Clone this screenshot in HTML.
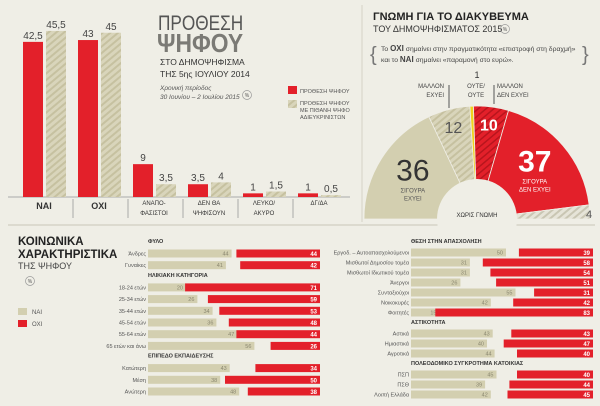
<!DOCTYPE html>
<html><head><meta charset="utf-8">
<style>
html,body{margin:0;padding:0;background:#efeee6;}
svg{display:block;font-family:"Liberation Sans Narrow","Liberation Sans","DejaVu Sans",sans-serif;}
</style></head>
<body>
<svg id="c" width="600" height="406" viewBox="0 0 600 406">
<defs>
<pattern id="hk" width="5" height="5" patternUnits="userSpaceOnUse" patternTransform="rotate(-40)">
<rect width="5" height="5" fill="#d9d5bb"/><rect width="5" height="2" fill="#c6c1a0"/></pattern>
<pattern id="hr" width="5" height="5" patternUnits="userSpaceOnUse" patternTransform="rotate(-40)">
<rect width="5" height="5" fill="#e3202a"/><rect width="5" height="1.5" fill="#b8151d"/></pattern>
<pattern id="hl" width="5" height="5" patternUnits="userSpaceOnUse" patternTransform="rotate(-40)">
<rect width="5" height="5" fill="#e6e4d8"/><rect width="5" height="2" fill="#c9c6b3"/></pattern>
</defs>
<rect width="600" height="406" fill="#efeee6"/>
<g id="top"></g>
<line x1="362" y1="5" x2="362" y2="222" stroke="#d4d2c6" stroke-width="1"/>
<line x1="8" y1="225" x2="595" y2="225" stroke="#c8c6b8" stroke-width="1"/>
<!-- Title -->
<text transform="translate(158,30) scale(0.82,1)" font-size="21" fill="#555">ΠΡΟΘΕΣΗ</text>
<text transform="translate(157,52) scale(0.88,1)" font-size="26" fill="#7b7a75" font-weight="bold">ΨΗΦΟΥ</text>
<text x="160" y="65" font-size="8.5" fill="#333">ΣΤΟ ΔΗΜΟΨΗΦΙΣΜΑ</text>
<text x="160" y="77" font-size="8.5" fill="#333">ΤΗΣ 5ης ΙΟΥΛΙΟΥ 2014</text>
<text x="160" y="90" font-size="6.5" fill="#555" font-style="italic">Χρονική περίοδος</text>
<text x="160" y="99" font-size="6.5" fill="#555" font-style="italic">30 Ιουνίου – 2 Ιουλίου 2015</text>
<circle cx="247" cy="95" r="4.5" fill="none" stroke="#999" stroke-width="0.7"/>
<text x="247" y="97" font-size="5" text-anchor="middle" fill="#555">%</text>
<!-- legend -->
<rect x="288" y="86" width="9" height="8" fill="#e3202a"/>
<text x="300" y="93" font-size="5.5" fill="#555">ΠΡΟΘΕΣΗ ΨΗΦΟΥ</text>
<rect x="288" y="100" width="9" height="8" fill="url(#hk)"/>
<text x="300" y="105" font-size="5.5" fill="#555">ΠΡΟΘΕΣΗ ΨΗΦΟΥ</text>
<text x="300" y="112" font-size="5.5" fill="#555">ΜΕ ΠΙΘΑΝΗ ΨΗΦΟ</text>
<text x="300" y="119" font-size="5.5" fill="#555">ΑΔΙΕΥΚΡΙΝΙΣΤΩΝ</text>
<!-- right title -->
<text x="373" y="20" font-size="11" font-weight="bold" fill="#222">ΓΝΩΜΗ ΓΙΑ ΤΟ ΔΙΑΚΥΒΕΥΜΑ</text>
<text x="373" y="32" font-size="9" fill="#333">ΤΟΥ ΔΗΜΟΨΗΦΙΣΜΑΤΟΣ 2015</text>
<circle cx="505" cy="29" r="4.5" fill="none" stroke="#999" stroke-width="0.7"/>
<text x="505" y="31" font-size="5" text-anchor="middle" fill="#555">%</text>
<text x="370" y="61" font-size="20" fill="#777">{</text>
<text x="582" y="61" font-size="20" fill="#777">}</text>
<text x="381" y="51" font-size="6.8" fill="#444">Το <tspan font-weight="bold" font-size="8">ΟΧΙ</tspan> σημαίνει στην πραγματικότητα «επιστροφή στη δραχμή»</text>
<text x="381" y="62" font-size="6.8" fill="#444">και το <tspan font-weight="bold" font-size="8">ΝΑΙ</tspan> σημαίνει «παραμονή στο ευρώ».</text>
<g id="pie"></g>
<!-- lower title -->
<text x="18" y="245" font-size="11.5" font-weight="bold" fill="#222">ΚΟΙΝΩΝΙΚΑ</text>
<text x="18" y="258" font-size="11.5" font-weight="bold" fill="#222">ΧΑΡΑΚΤΗΡΙΣΤΙΚΑ</text>
<text x="18" y="269" font-size="9" fill="#444">ΤΗΣ ΨΗΦΟΥ</text>
<circle cx="30" cy="281" r="4.5" fill="none" stroke="#999" stroke-width="0.7"/>
<text x="30" y="283" font-size="5" text-anchor="middle" fill="#555">%</text>
<rect x="18" y="308" width="9" height="7" fill="#d3cfb0"/>
<text x="32" y="314" font-size="6" fill="#555">ΝΑΙ</text>
<rect x="18" y="320" width="9" height="7" fill="#e3202a"/>
<text x="32" y="326" font-size="6" fill="#555">ΟΧΙ</text>
<g id="bars"></g>
</svg>
<script>
var NS="http://www.w3.org/2000/svg";
// ---- top chart data ----
var topCats=[["ΝΑΙ"],["ΟΧΙ"],["ΑΝΑΠΟ-","ΦΑΣΙΣΤΟΙ"],["ΔΕΝ ΘΑ","ΨΗΦΙΣΟΥΝ"],["ΛΕΥΚΟ/","ΑΚΥΡΟ"],["ΔΓ/ΔΑ"]];
var topIntention=[42.5,43,9,3.5,1,1];
var topProbable=[45.5,45,3.5,4,1.5,0.5];
var topLabelsA=["42,5","43","9","3,5","1","1"];
var topLabelsB=["45,5","45","3,5","4","1,5","0,5"];
// ---- pie data ----
var pieCats=["ΣΙΓΟΥΡΑ ΝΑΙ","ΜΑΛΛΟΝ ΝΑΙ","ΟΥΤΕ/ΟΥΤΕ","ΜΑΛΛΟΝ ΟΧΙ","ΣΙΓΟΥΡΑ ΟΧΙ","ΧΩΡΙΣ ΓΝΩΜΗ"];
var pieVals=[36,12,1,10,37,4];
// ---- social data ----
var leftGroups=["ΦΥΛΟ","ΗΛΙΚΙΑΚΗ ΚΑΤΗΓΟΡΙΑ","ΕΠΙΠΕΔΟ ΕΚΠΑΙΔΕΥΣΗΣ"];
var leftCats=[["Άνδρες","Γυναίκες"],["18-24 ετών","25-34 ετών","35-44 ετών","45-54 ετών","55-64 ετών","65 ετών και άνω"],["Κατώτερη","Μέση","Ανώτερη"]];
var leftYes=[[44,41],[20,26,34,36,47,56],[43,38,48]];
var leftNo=[[44,42],[71,59,53,48,44,26],[34,50,38]];
var rightGroups=["ΘΕΣΗ ΣΤΗΝ ΑΠΑΣΧΟΛΗΣΗ","ΑΣΤΙΚΟΤΗΤΑ","ΠΟΛΕΟΔΟΜΙΚΟ ΣΥΓΚΡΟΤΗΜΑ ΚΑΤΟΙΚΙΑΣ"];
var rightCats=[["Εργοδ. – Αυτοαπασχολούμενοι","Μισθωτοί Δημοσίου τομέα","Μισθωτοί Ιδιωτικού τομέα","Άνεργοι","Συνταξιούχοι","Νοικοκυρές","Φοιτητές"],["Αστικά","Ημιαστικά","Αγροτικά"],["ΠΣΠ","ΠΣΘ","Λοιπή Ελλάδα"]];
var rightYes=[[50,31,31,26,55,42,15],[43,40,44],[45,39,42]];
var rightNo=[[39,58,54,51,31,42,83],[43,47,40],[40,44,45]];

function mk(tag,attrs,parent,txt){var e=document.createElementNS(NS,tag);for(var k in attrs)e.setAttribute(k,attrs[k]);if(txt!==undefined)e.textContent=txt;parent.appendChild(e);return e;}

// top chart
var top_=document.getElementById("top");
var base=197, yScale=function(v){return v*3.65;}, gx=function(i){return 23+i*55;};
var bl=mk("line",{x1:8,y1:base,x2:350,y2:base,stroke:"#aaa","stroke-width":1},top_);


topCats.forEach(function(c,i){
  var h1=yScale(topIntention[i]),h2=yScale(topProbable[i]);
  var r1=mk("rect",{x:gx(i),y:base-h1,width:20,height:h1,fill:"#e3202a"},top_);
  
  
  var r2=mk("rect",{x:gx(i)+23,y:base-h2,width:20,height:h2,fill:"url(#hk)"},top_);
  
  
  var t1=mk("text",{x:gx(i)+10,y:base-h1-3,"font-size":10,"text-anchor":"middle",fill:"#444"},top_,topLabelsA[i]);
  
  
  var t2=mk("text",{x:gx(i)+33,y:base-h2-3,"font-size":10,"text-anchor":"middle",fill:"#444"},top_,topLabelsB[i]);
  
  
  var big=c.length===1&&i<2;
  c.forEach(function(line,j){
    var tl=mk("text",{x:gx(i)+21,y:big?209:205+j*10,"font-size":big?9:6,"font-weight":big?"bold":"normal","text-anchor":"middle",fill:"#333"},top_,line);
    
    
  });
  if(i>0){
    var s=mk("line",{x1:gx(i)-5,y1:199,x2:gx(i)-5,y2:218,stroke:"#999","stroke-width":0.8},top_);
    
    
  }
});

// pie
var pie=document.getElementById("pie");
var cx=477,cy=219,R=113,r0=40;
var fills=["#d3cfb0","url(#hk)","#f0d21c","url(#hr)","#e3202a","url(#hl)"];
var tot=pieVals.reduce(function(a,b){return a+b;},0),acc=0;
function pt(a,rr){return [cx-rr*Math.cos(a),cy-rr*Math.sin(a)];}
pieVals.forEach(function(v,i){
  var a0=acc/tot*Math.PI,a1=(acc+v)/tot*Math.PI;acc+=v;
  var p0=pt(a0,R),p1=pt(a1,R);
  var d="M"+cx+","+cy+"L"+p0[0]+","+p0[1]+"A"+R+","+R+" 0 0 1 "+p1[0]+","+p1[1]+"Z";
  var s=mk("path",{d:d,fill:fills[i],stroke:"#efeee6","stroke-width":0.8},pie);
  
  
  var am=(a0+a1)/2;
  if(i===0||i===4){var p=pt(am,76);
    var t=mk("text",{x:p[0],y:p[1]+2,"font-size":30,"text-anchor":"middle","font-weight":i===4?"bold":"normal",fill:i===4?"#fff":"#333"},pie,String(v));
    
    
    var l1=mk("text",{x:p[0],y:p[1]+14,"font-size":6,"text-anchor":"middle",fill:i===4?"#fff":"#555"},pie,"ΣΙΓΟΥΡΑ");
    
    
    var l2=mk("text",{x:p[0],y:p[1]+22,"font-size":6,"text-anchor":"middle",fill:i===4?"#fff":"#555"},pie,i===4?"ΔΕΝ ΕΧΥΕΙ":"ΕΧΥΕΙ");
    
    
  } else if(i===1||i===3){var p=pt(am,95);
    var t=mk("text",{x:p[0],y:p[1]+6,"font-size":16,"text-anchor":"middle","font-weight":i===3?"bold":"normal",fill:i===3?"#fff":"#555"},pie,String(v));
    
    
  } else if(i===5){
    var t=mk("text",{x:cx+R-1,y:cy-1,"font-size":11,"text-anchor":"middle",fill:"#555"},pie,String(v));
    
    
  } else {
    var t=mk("text",{x:cx,y:78,"font-size":9,"text-anchor":"middle",fill:"#333"},pie,String(v));
    
    
  }
});
var hole=mk("circle",{cx:cx,cy:cy,r:r0,fill:"#efeee6"},pie);


var cover=mk("rect",{x:363,y:cy,width:237,height:5,fill:"#efeee6"},pie);


var labs=[[444,"ΜΑΛΛΟΝ","ΕΧΥΕΙ","end"],[476,"ΟΥΤΕ/","ΟΥΤΕ","middle"],[497,"ΜΑΛΛΟΝ","ΔΕΝ ΕΧΥΕΙ","start"]];
labs.forEach(function(L){
  var a=mk("text",{x:L[0],y:88,"font-size":6,"text-anchor":L[3],fill:"#444"},pie,L[1]);
  
  
  var b=mk("text",{x:L[0],y:97,"font-size":6,"text-anchor":L[3],fill:"#444"},pie,L[2]);
  
  
});
[[449,85,108],[494,85,104]].forEach(function(l){
  var ln=mk("line",{x1:l[0],y1:l[1],x2:l[0],y2:l[2],stroke:"#555","stroke-width":1},pie);
  
  
});
var ng=mk("text",{x:cx,y:217,"font-size":6,"text-anchor":"middle",fill:"#333"},pie,"ΧΩΡΙΣ ΓΝΩΜΗ");



// social bars
var bars=document.getElementById("bars");
var sc=1.9;
function panel(groups,cats,yes,no,x0,xEnd,yStart,rowH,rowOff,groupGap){
  var y=yStart;
  groups.forEach(function(g,gi){
    var h=mk("text",{x:x0,y:y,"font-size":5.5,"font-weight":"bold",fill:"#333"},bars,g);
    
    
    y+=rowOff;
    cats[gi].forEach(function(c,ci){
      var cyy=y+ci*rowH;
      var lb=mk("text",{x:x0-2,y:cyy+2,"font-size":5.5,"text-anchor":"end",fill:"#555"},bars,c);
      
      
      var wy=yes[gi][ci]*sc,wn=no[gi][ci]*sc;
      var ry=mk("rect",{x:x0,y:cyy-4,width:wy,height:8,fill:"#d3cfb0"},bars);
      
      
      var ty=mk("text",{x:x0+wy-3,y:cyy+2,"font-size":5.5,"text-anchor":"end",fill:"#8a876f"},bars,String(yes[gi][ci]));
      
      
      var rn=mk("rect",{x:xEnd-wn,y:cyy-4,width:wn,height:8,fill:"#e3202a"},bars);
      
      
      var tn=mk("text",{x:xEnd-3,y:cyy+2.5,"font-size":6,"font-weight":"bold","text-anchor":"end",fill:"#fff"},bars,String(no[gi][ci]));
      
      
    });
    y+=cats[gi].length*rowH+groupGap;
  });
}
panel(leftGroups,leftCats,leftYes,leftNo,148,320,243,11.7,10.5,0);
panel(rightGroups,rightCats,rightYes,rightNo,411,593,243,10,9.5,1.5);
</script>
</body></html>
